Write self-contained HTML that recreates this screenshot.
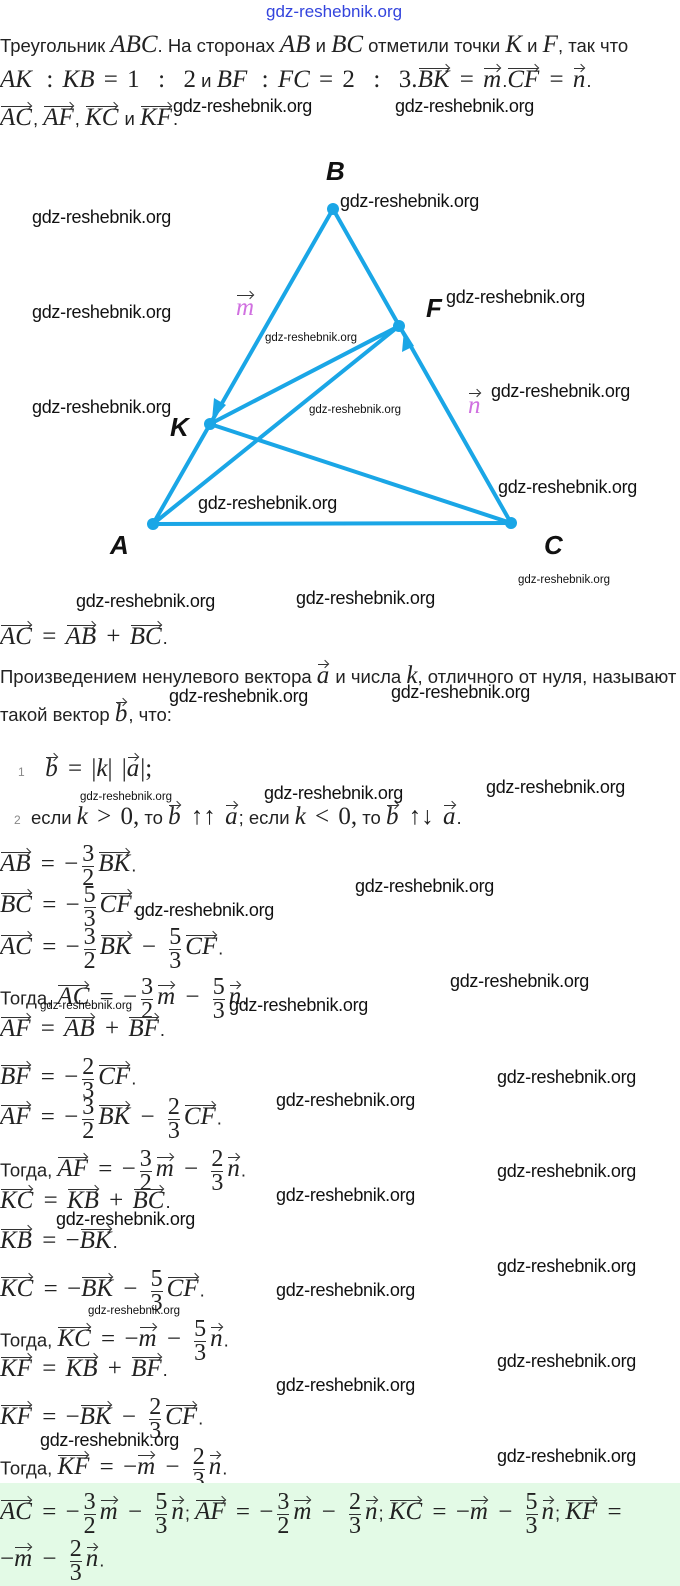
<!DOCTYPE html>
<html><head><meta charset="utf-8"><style>
body{margin:0;width:680px;height:1586px;background:#fff;position:relative;overflow:hidden;font-family:"Liberation Sans",sans-serif;color:#222}
.l{position:absolute;left:0;white-space:nowrap;font-size:18.5px;line-height:26px}
.m{font-family:"Liberation Serif",serif;font-style:italic;font-size:25px}
.n{font-family:"Liberation Serif",serif;font-size:25px;word-spacing:3px}
.v{position:relative;display:inline-block;font-family:"Liberation Serif",serif;font-style:italic;font-size:25px;padding-right:1px}
.v::before{content:'';position:absolute;left:1px;right:2px;top:1px;border-top:1.3px solid #333}
.v::after{content:'';position:absolute;right:2px;top:-2px;width:5px;height:5px;border-top:1.3px solid #333;border-right:1.3px solid #333;transform:rotate(45deg)}
.f{display:inline-flex;flex-direction:column;vertical-align:middle;font-family:"Liberation Serif",serif;font-size:24px;line-height:23px;text-align:center;margin:0 4px}
.f span:first-child{border-bottom:1px solid #333}
.w{position:absolute;font-size:18px;color:#111;white-space:nowrap;letter-spacing:-0.3px}
.ws{position:absolute;font-size:11.5px;color:#111;white-space:nowrap}
.lab{position:absolute;font-family:"Liberation Sans",sans-serif;font-weight:bold;font-style:italic;font-size:26px;color:#111}
</style></head><body>
<div style="position:absolute;left:266px;top:2px;font-size:17px;color:#3344dd">gdz-reshebnik.org</div>
<div class="l" style="top:32px">Треугольник <span class="m">ABC</span>. На сторонах <span class="m">AB</span> и <span class="m">BC</span> отметили точки <span class="m">K</span> и <span class="m">F</span>, так что</div>
<div class="l" style="top:67px"><span class="m">AK</span> <span class="n">&nbsp;: </span><span class="m">KB</span><span class="n"> = 1 &nbsp;: &nbsp;2</span> и <span class="m">BF</span> <span class="n">&nbsp;: </span><span class="m">FC</span><span class="n"> = 2 &nbsp;: &nbsp;3.</span><span class="v">BK</span><span class="n"> = </span><span class="v">m</span>.<span class="v">CF</span><span class="n"> = </span><span class="v">n</span>.</div>
<div class="l" style="top:105px"><span class="v">AC</span>, <span class="v">AF</span>, <span class="v">KC</span> и <span class="v">KF</span>.</div>

<svg style="position:absolute;left:0;top:0" width="680" height="600">
<g stroke="#1aa6e6" stroke-width="4" fill="none" stroke-linecap="round">
<line x1="153" y1="524" x2="333" y2="209"/>
<line x1="333" y1="209" x2="511" y2="523"/>
<line x1="153" y1="524" x2="511" y2="523"/>
<line x1="153" y1="524" x2="399" y2="326"/>
<line x1="210" y1="424" x2="399" y2="326"/>
<line x1="210" y1="424" x2="511" y2="523"/>
</g>
<g fill="#1aa6e6">
<polygon points="212,420 214,398 226,405"/>
<polygon points="404,330 402,352 414,346"/>
<circle cx="333" cy="209" r="6"/><circle cx="399" cy="326" r="6"/><circle cx="210" cy="424" r="6"/><circle cx="153" cy="524" r="6"/><circle cx="511" cy="523" r="6"/>
</g>
</svg>
<div class="lab" style="left:326px;top:156px">B</div>
<div class="lab" style="left:426px;top:293px">F</div>
<div class="lab" style="left:170px;top:412px">K</div>
<div class="lab" style="left:110px;top:530px">A</div>
<div class="lab" style="left:544px;top:530px">C</div>
<div class="v" style="position:absolute;left:236px;top:294px;color:#d070e0">m</div>
<div class="v" style="position:absolute;left:468px;top:392px;color:#d070e0">n</div>

<div class="l" style="top:624px"><span class="v">AC</span><span class="n"> = </span><span class="v">AB</span><span class="n"> + </span><span class="v">BC</span>.</div>
<div class="l" style="top:663px">Произведением ненулевого вектора <span class="v">a</span> и числа <span class="m">k</span>, отличного от нуля, называют</div>
<div class="l" style="top:701px">такой вектор <span class="v">b</span>, что:</div>
<div class="l" style="top:756px;left:18px"><span style="font-size:12px;color:#888">1</span> &nbsp; &nbsp;<span class="v">b</span><span class="n"> = |</span><span class="m">k</span><span class="n">| |</span><span class="v">a</span><span class="n">|;</span></div>
<div class="l" style="top:804px;left:14px"><span style="font-size:12px;color:#888">2</span> &nbsp;если <span class="m">k</span><span class="n"> &gt; 0,</span> то <span class="v">b</span><span class="n"> ↑↑ </span><span class="v">a</span>; если <span class="m">k</span><span class="n"> &lt; 0,</span> то <span class="v">b</span><span class="n"> ↑↓ </span><span class="v">a</span>.</div>

<div class="l" style="top:843px"><span class="v">AB</span><span class="n"> = −</span><span class="f"><span>3</span><span>2</span></span><span class="v">BK</span>.</div>
<div class="l" style="top:884px"><span class="v">BC</span><span class="n"> = −</span><span class="f"><span>5</span><span>3</span></span><span class="v">CF</span>.</div>
<div class="l" style="top:926px"><span class="v">AC</span><span class="n"> = −</span><span class="f"><span>3</span><span>2</span></span><span class="v">BK</span><span class="n"> − </span><span class="f"><span>5</span><span>3</span></span><span class="v">CF</span>.</div>
<div class="l" style="top:976px">Тогда, <span class="v">AC</span><span class="n"> = −</span><span class="f"><span>3</span><span>2</span></span><span class="v">m</span><span class="n"> − </span><span class="f"><span>5</span><span>3</span></span><span class="v">n</span>.</div>
<div class="l" style="top:1016px"><span class="v">AF</span><span class="n"> = </span><span class="v">AB</span><span class="n"> + </span><span class="v">BF</span>.</div>
<div class="l" style="top:1056px"><span class="v">BF</span><span class="n"> = −</span><span class="f"><span>2</span><span>3</span></span><span class="v">CF</span>.</div>
<div class="l" style="top:1096px"><span class="v">AF</span><span class="n"> = −</span><span class="f"><span>3</span><span>2</span></span><span class="v">BK</span><span class="n"> − </span><span class="f"><span>2</span><span>3</span></span><span class="v">CF</span>.</div>
<div class="l" style="top:1148px">Тогда, <span class="v">AF</span><span class="n"> = −</span><span class="f"><span>3</span><span>2</span></span><span class="v">m</span><span class="n"> − </span><span class="f"><span>2</span><span>3</span></span><span class="v">n</span>.</div>
<div class="l" style="top:1188px"><span class="v">KC</span><span class="n"> = </span><span class="v">KB</span><span class="n"> + </span><span class="v">BC</span>.</div>
<div class="l" style="top:1228px"><span class="v">KB</span><span class="n"> = −</span><span class="v">BK</span>.</div>
<div class="l" style="top:1268px"><span class="v">KC</span><span class="n"> = −</span><span class="v">BK</span><span class="n"> − </span><span class="f"><span>5</span><span>3</span></span><span class="v">CF</span>.</div>
<div class="l" style="top:1318px">Тогда, <span class="v">KC</span><span class="n"> = −</span><span class="v">m</span><span class="n"> − </span><span class="f"><span>5</span><span>3</span></span><span class="v">n</span>.</div>
<div class="l" style="top:1356px"><span class="v">KF</span><span class="n"> = </span><span class="v">KB</span><span class="n"> + </span><span class="v">BF</span>.</div>
<div class="l" style="top:1396px"><span class="v">KF</span><span class="n"> = −</span><span class="v">BK</span><span class="n"> − </span><span class="f"><span>2</span><span>3</span></span><span class="v">CF</span>.</div>
<div class="l" style="top:1446px">Тогда, <span class="v">KF</span><span class="n"> = −</span><span class="v">m</span><span class="n"> − </span><span class="f"><span>2</span><span>3</span></span><span class="v">n</span>.</div>

<div style="position:absolute;left:0;top:1483px;width:680px;height:103px;background:#e3fae6"></div>
<div class="l" style="top:1491px"><span class="v">AC</span><span class="n"> = −</span><span class="f"><span>3</span><span>2</span></span><span class="v">m</span><span class="n"> − </span><span class="f"><span>5</span><span>3</span></span><span class="v">n</span>; <span class="v">AF</span><span class="n"> = −</span><span class="f"><span>3</span><span>2</span></span><span class="v">m</span><span class="n"> − </span><span class="f"><span>2</span><span>3</span></span><span class="v">n</span>; <span class="v">KC</span><span class="n"> = −</span><span class="v">m</span><span class="n"> − </span><span class="f"><span>5</span><span>3</span></span><span class="v">n</span>; <span class="v">KF</span><span class="n"> =</span></div>
<div class="l" style="top:1538px"><span class="n">−</span><span class="v">m</span><span class="n"> − </span><span class="f"><span>2</span><span>3</span></span><span class="v">n</span>.</div>

<div class="w" style="left:173px;top:96px">gdz-reshebnik.org</div>
<div class="w" style="left:395px;top:96px">gdz-reshebnik.org</div>
<div class="w" style="left:340px;top:191px">gdz-reshebnik.org</div>
<div class="w" style="left:32px;top:207px">gdz-reshebnik.org</div>
<div class="w" style="left:446px;top:287px">gdz-reshebnik.org</div>
<div class="w" style="left:32px;top:302px">gdz-reshebnik.org</div>
<div class="w" style="left:491px;top:381px">gdz-reshebnik.org</div>
<div class="w" style="left:32px;top:397px">gdz-reshebnik.org</div>
<div class="w" style="left:498px;top:477px">gdz-reshebnik.org</div>
<div class="w" style="left:198px;top:493px">gdz-reshebnik.org</div>
<div class="w" style="left:76px;top:591px">gdz-reshebnik.org</div>
<div class="w" style="left:296px;top:588px">gdz-reshebnik.org</div>
<div class="w" style="left:169px;top:686px">gdz-reshebnik.org</div>
<div class="w" style="left:391px;top:682px">gdz-reshebnik.org</div>
<div class="w" style="left:264px;top:783px">gdz-reshebnik.org</div>
<div class="w" style="left:486px;top:777px">gdz-reshebnik.org</div>
<div class="w" style="left:355px;top:876px">gdz-reshebnik.org</div>
<div class="w" style="left:135px;top:900px">gdz-reshebnik.org</div>
<div class="w" style="left:450px;top:971px">gdz-reshebnik.org</div>
<div class="w" style="left:229px;top:995px">gdz-reshebnik.org</div>
<div class="w" style="left:497px;top:1067px">gdz-reshebnik.org</div>
<div class="w" style="left:276px;top:1090px">gdz-reshebnik.org</div>
<div class="w" style="left:497px;top:1161px">gdz-reshebnik.org</div>
<div class="w" style="left:276px;top:1185px">gdz-reshebnik.org</div>
<div class="w" style="left:56px;top:1209px">gdz-reshebnik.org</div>
<div class="w" style="left:497px;top:1256px">gdz-reshebnik.org</div>
<div class="w" style="left:276px;top:1280px">gdz-reshebnik.org</div>
<div class="w" style="left:497px;top:1351px">gdz-reshebnik.org</div>
<div class="w" style="left:276px;top:1375px">gdz-reshebnik.org</div>
<div class="w" style="left:40px;top:1430px">gdz-reshebnik.org</div>
<div class="w" style="left:497px;top:1446px">gdz-reshebnik.org</div>
<div class="ws" style="left:265px;top:332px">gdz-reshebnik.org</div>
<div class="ws" style="left:309px;top:404px">gdz-reshebnik.org</div>
<div class="ws" style="left:518px;top:574px">gdz-reshebnik.org</div>
<div class="ws" style="left:80px;top:791px">gdz-reshebnik.org</div>
<div class="ws" style="left:40px;top:1000px">gdz-reshebnik.org</div>
<div class="ws" style="left:88px;top:1305px">gdz-reshebnik.org</div>
</body></html>
